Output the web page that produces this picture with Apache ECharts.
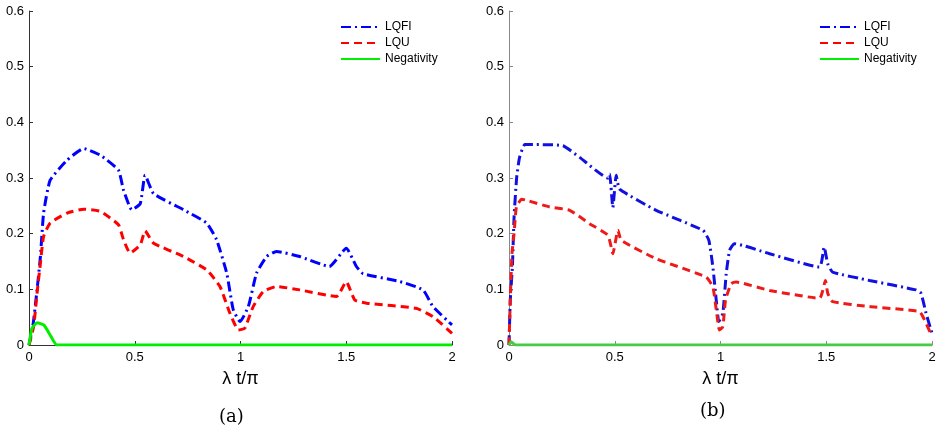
<!DOCTYPE html>
<html><head><meta charset="utf-8">
<script src="https://cdn.jsdelivr.net/npm/echarts@6/dist/echarts.min.js"></script>
<style>html,body{margin:0;padding:0;background:#fff}#c{width:941px;height:435px}</style>
</head><body><div id="c"></div>
<script>
// Panel (a)
const aLqfiX = [0,0.02,0.038,0.054,0.069,0.1,0.18,0.258,0.337,0.423,0.447,0.486,0.526,0.549,0.589,0.73,0.84,0.887,0.935,0.966,0.998,1.037,1.076,1.124,1.17,1.28,1.42,1.5,1.548,1.58,1.753,1.863,1.91,2.0];
const aLqfiY = [0,0.039,0.099,0.159,0.237,0.296,0.332,0.353,0.341,0.314,0.278,0.243,0.254,0.305,0.272,0.243,0.219,0.189,0.129,0.063,0.042,0.069,0.129,0.159,0.168,0.159,0.141,0.174,0.141,0.128,0.114,0.099,0.069,0.036];
const aLquX = [0,0.022,0.038,0.054,0.069,0.1,0.18,0.258,0.337,0.423,0.447,0.478,0.526,0.549,0.589,0.73,0.84,0.903,0.95,0.99,1.02,1.06,1.108,1.17,1.28,1.454,1.5,1.54,1.596,1.83,1.91,2.0];
const aLquY = [0,0.033,0.093,0.147,0.195,0.219,0.237,0.244,0.24,0.216,0.189,0.165,0.18,0.205,0.183,0.159,0.135,0.105,0.057,0.027,0.03,0.069,0.096,0.105,0.099,0.087,0.114,0.081,0.075,0.066,0.051,0.021];
const aNegX = [0,0.014,0.038,0.07,0.1,0.132,2.0];
const aNegY = [0,0.03,0.04,0.036,0.018,0,0];
// Panel (b)
const bLqfiX = [0,0.006,0.016,0.024,0.036,0.05,0.075,0.13,0.255,0.334,0.468,0.476,0.491,0.507,0.523,0.696,0.917,0.945,0.964,0.98,0.992,1.011,1.027,1.043,1.066,1.232,1.468,1.49,1.507,1.53,1.704,1.924,1.948,1.972,2.0];
const bLqfiY = [0,0.08,0.14,0.23,0.3,0.337,0.36,0.36,0.358,0.337,0.3,0.307,0.247,0.305,0.28,0.242,0.206,0.188,0.14,0.08,0.042,0.057,0.128,0.17,0.182,0.164,0.14,0.176,0.146,0.131,0.116,0.099,0.093,0.057,0.021];
const bLquX = [0,0.006,0.014,0.024,0.035,0.06,0.082,0.192,0.287,0.381,0.468,0.491,0.515,0.531,0.696,0.932,0.964,0.98,0.995,1.011,1.024,1.05,1.074,1.232,1.468,1.496,1.507,1.53,1.704,1.94,1.965,2.0];
const bLquY = [0,0.08,0.164,0.2,0.248,0.262,0.26,0.248,0.242,0.218,0.197,0.164,0.206,0.188,0.155,0.122,0.104,0.063,0.027,0.033,0.081,0.11,0.113,0.098,0.084,0.116,0.093,0.078,0.069,0.06,0.045,0.015];
const bNegX = [0,0.01,0.03,2.0];
const bNegY = [0,0.006,0,0];
const xTicks = [0,0.5,1,1.5,2];
const yTicks = [0,0.1,0.2,0.3,0.4,0.5,0.6];
const names = ['LQFI','LQU','Negativity'];
const captions = ['(a)','(b)'];

const pts = (xs, ys) => xs.map((x, i) => [x, ys[i]]);
const font = 'Liberation Sans, Arial, sans-serif';

function xAx(gi, axisColor) {
  return {
    type: 'value', gridIndex: gi, min: xTicks[0], max: xTicks[xTicks.length-1], interval: 0.5,
    name: 'λ t/π', nameLocation: 'middle', nameGap: 25,
    nameTextStyle: {fontFamily: font, fontSize: 18, color: '#000'},
    axisLine: {show: true, lineStyle: {color: axisColor, width: 1}},
    axisTick: {show: true, inside: true, length: 4, lineStyle: {color: axisColor}},
    axisLabel: {fontFamily: font, fontSize: 13, color: '#000', margin: 6},
    splitLine: {show: false}
  };
}
function yAx(gi, axisColor) {
  return {
    type: 'value', gridIndex: gi, min: yTicks[0], max: yTicks[yTicks.length-1], interval: 0.1,
    axisLine: {show: true, lineStyle: {color: axisColor, width: 1}},
    axisTick: {show: true, inside: true, length: 4, lineStyle: {color: axisColor}},
    axisLabel: {fontFamily: font, fontSize: 13, color: '#000', margin: 5},
    splitLine: {show: false}
  };
}
function ser(name, gi, data, color, type, width) {
  return {
    name, type: 'line', xAxisIndex: gi, yAxisIndex: gi, data, symbol: 'none',
    smooth: 0.15, animation: false,
    lineStyle: {color, type, width}, itemStyle: {color}
  };
}
const dashDot = [10, 4, 2, 4];
const dash = [8, 5];
function leg(left) {
  return {data: names, orient: 'vertical', left, top: 21, padding: 0, itemWidth: 39, itemHeight: 12, itemGap: 4,
    itemStyle: {opacity: 0},
    textStyle: {fontFamily: font, fontSize: 12, color: '#000'}, selectedMode: false};
}
const option = {
  animation: false,
  grid: [
    {left: 29, top: 11, width: 423, height: 334},
    {left: 509, top: 11, width: 423, height: 334}
  ],
  xAxis: [xAx(0, '#333'), xAx(1, '#888')],
  yAxis: [yAx(0, '#333'), yAx(1, '#888')],
  legend: [leg(340), leg(819)],
  series: [
    ser(names[0], 0, pts(aLqfiX, aLqfiY), '#0000ff', dashDot, 3),
    ser(names[1], 0, pts(aLquX, aLquY), '#ff0000', dash, 3),
    ser(names[2], 0, pts(aNegX, aNegY), '#00ee00', 'solid', 3),
    ser(names[0], 1, pts(bLqfiX, bLqfiY), '#1010e0', dashDot, 3),
    ser(names[1], 1, pts(bLquX, bLquY), '#ee1a1a', dash, 3),
    ser(names[2], 1, pts(bNegX, bNegY), '#44cc44', 'solid', 3)
  ],
  graphic: [
    {type: 'text', left: 219, top: 408, style: {text: captions[0], font: '18px "DejaVu Serif", "Liberation Serif", serif', fill: '#000'}},
    {type: 'text', left: 700, top: 402, style: {text: captions[1], font: '18px "DejaVu Serif", "Liberation Serif", serif', fill: '#000'}}
  ]
};
const chart = echarts.init(document.getElementById('c'), null, {renderer: 'canvas'});
chart.setOption(option);
</script></body></html>
